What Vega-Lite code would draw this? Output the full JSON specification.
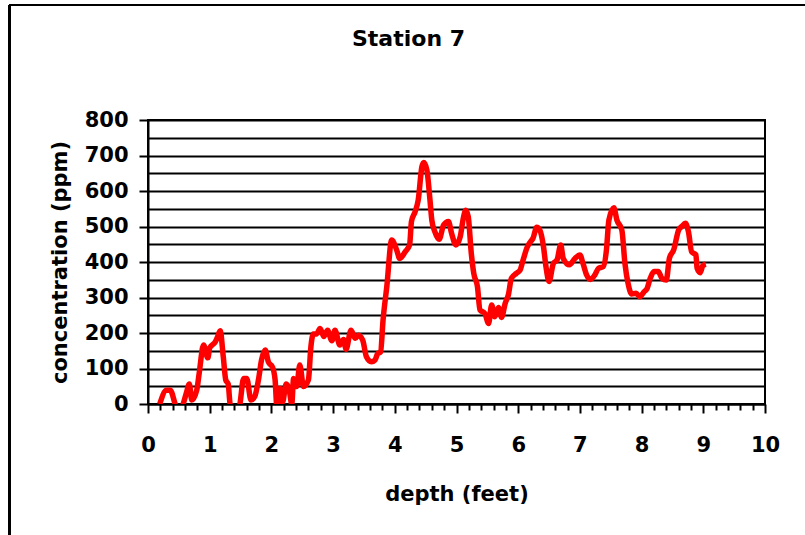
{
  "$schema": "https://vega.github.io/schema/vega-lite/v6.json",
  "autosize": "none",
  "width": 617,
  "height": 284,
  "padding": {"left": 148, "top": 120, "right": 40, "bottom": 131},
  "background": "white",
  "title": {
    "text": "Station 7",
    "font": "DejaVu Sans",
    "fontSize": 22,
    "fontWeight": "bold",
    "color": "black",
    "anchor": "middle",
    "frame": "group",
    "baseline": "alphabetic",
    "dx": -48,
    "offset": -64
  },
  "config": {
    "view": {"stroke": "black", "strokeWidth": 2},
    "axis": {
      "labelFont": "DejaVu Sans",
      "labelFontWeight": "bold",
      "labelFontSize": 21,
      "labelColor": "black",
      "titleFont": "DejaVu Sans",
      "titleFontWeight": "bold",
      "titleFontSize": 21,
      "titleColor": "black",
      "domainColor": "black",
      "domainWidth": 2,
      "tickColor": "black",
      "tickWidth": 2,
      "gridColor": "black",
      "gridWidth": 2,
      "gridOpacity": 1,
      "labelOverlap": false,
      "labelFlush": false
    }
  },
  "data": {
    "values": [
      {"depth": 0.19, "conc": 0},
      {"depth": 0.30, "conc": 39},
      {"depth": 0.36, "conc": 39},
      {"depth": 0.44, "conc": 0},
      {"depth": 0.50, "conc": -30},
      {"depth": 0.57, "conc": 0},
      {"depth": 0.62, "conc": 30},
      {"depth": 0.67, "conc": 56},
      {"depth": 0.71, "conc": 11},
      {"depth": 0.79, "conc": 39},
      {"depth": 0.83, "conc": 87},
      {"depth": 0.90, "conc": 166},
      {"depth": 0.97, "conc": 130},
      {"depth": 1.00, "conc": 158},
      {"depth": 1.09, "conc": 175},
      {"depth": 1.12, "conc": 186},
      {"depth": 1.17, "conc": 206},
      {"depth": 1.22, "conc": 133},
      {"depth": 1.26, "conc": 68},
      {"depth": 1.30, "conc": 56},
      {"depth": 1.33, "conc": 0},
      {"depth": 1.41, "conc": -40},
      {"depth": 1.49, "conc": 0},
      {"depth": 1.55, "conc": 72},
      {"depth": 1.60, "conc": 72},
      {"depth": 1.67, "conc": 11},
      {"depth": 1.73, "conc": 21},
      {"depth": 1.79, "conc": 68},
      {"depth": 1.84, "conc": 124},
      {"depth": 1.90, "conc": 152},
      {"depth": 1.95, "conc": 119},
      {"depth": 2.02, "conc": 103},
      {"depth": 2.06, "conc": 68},
      {"depth": 2.09, "conc": -10},
      {"depth": 2.14, "conc": 44},
      {"depth": 2.18, "conc": 5},
      {"depth": 2.24, "conc": 56},
      {"depth": 2.29, "conc": 39},
      {"depth": 2.33, "conc": 0},
      {"depth": 2.36, "conc": 72},
      {"depth": 2.41, "conc": 49},
      {"depth": 2.46, "conc": 110},
      {"depth": 2.52, "conc": 49},
      {"depth": 2.60, "conc": 68},
      {"depth": 2.64, "conc": 161},
      {"depth": 2.68, "conc": 197},
      {"depth": 2.73, "conc": 197},
      {"depth": 2.79, "conc": 213},
      {"depth": 2.85, "conc": 190},
      {"depth": 2.91, "conc": 208},
      {"depth": 2.98, "conc": 178},
      {"depth": 3.03, "conc": 208},
      {"depth": 3.11, "conc": 166},
      {"depth": 3.17, "conc": 182},
      {"depth": 3.21, "conc": 154},
      {"depth": 3.29, "conc": 208},
      {"depth": 3.36, "conc": 185},
      {"depth": 3.41, "conc": 194},
      {"depth": 3.48, "conc": 180},
      {"depth": 3.54, "conc": 133},
      {"depth": 3.62, "conc": 119},
      {"depth": 3.68, "conc": 124},
      {"depth": 3.72, "conc": 141},
      {"depth": 3.77, "conc": 147},
      {"depth": 3.81, "conc": 237},
      {"depth": 3.87, "conc": 330},
      {"depth": 3.95, "conc": 462},
      {"depth": 4.03, "conc": 434},
      {"depth": 4.08, "conc": 410},
      {"depth": 4.17, "conc": 429},
      {"depth": 4.24, "conc": 448},
      {"depth": 4.27, "conc": 514},
      {"depth": 4.33, "conc": 542},
      {"depth": 4.38, "conc": 575},
      {"depth": 4.44, "conc": 669},
      {"depth": 4.47, "conc": 680},
      {"depth": 4.52, "conc": 659},
      {"depth": 4.57, "conc": 575},
      {"depth": 4.60, "conc": 518},
      {"depth": 4.65, "conc": 485},
      {"depth": 4.72, "conc": 464},
      {"depth": 4.79, "conc": 504},
      {"depth": 4.87, "conc": 514},
      {"depth": 4.92, "conc": 481},
      {"depth": 4.99, "conc": 448},
      {"depth": 5.06, "conc": 471},
      {"depth": 5.11, "conc": 523},
      {"depth": 5.15, "conc": 546},
      {"depth": 5.19, "conc": 528},
      {"depth": 5.24, "conc": 424},
      {"depth": 5.28, "conc": 368},
      {"depth": 5.34, "conc": 330},
      {"depth": 5.38, "conc": 265},
      {"depth": 5.46, "conc": 255},
      {"depth": 5.52, "conc": 227},
      {"depth": 5.57, "conc": 279},
      {"depth": 5.62, "conc": 246},
      {"depth": 5.68, "conc": 272},
      {"depth": 5.73, "conc": 244},
      {"depth": 5.79, "conc": 284},
      {"depth": 5.84, "conc": 307},
      {"depth": 5.89, "conc": 354},
      {"depth": 5.97, "conc": 368},
      {"depth": 6.03, "conc": 377},
      {"depth": 6.08, "conc": 406},
      {"depth": 6.15, "conc": 443},
      {"depth": 6.20, "conc": 457},
      {"depth": 6.24, "conc": 467},
      {"depth": 6.30, "conc": 498},
      {"depth": 6.35, "conc": 490},
      {"depth": 6.41, "conc": 443},
      {"depth": 6.45, "conc": 387},
      {"depth": 6.50, "conc": 345},
      {"depth": 6.57, "conc": 396},
      {"depth": 6.63, "conc": 406},
      {"depth": 6.69, "conc": 448},
      {"depth": 6.73, "conc": 410},
      {"depth": 6.83, "conc": 392},
      {"depth": 6.92, "conc": 410},
      {"depth": 7.00, "conc": 420},
      {"depth": 7.05, "conc": 396},
      {"depth": 7.11, "conc": 363},
      {"depth": 7.17, "conc": 351},
      {"depth": 7.24, "conc": 363},
      {"depth": 7.30, "conc": 382},
      {"depth": 7.38, "conc": 387},
      {"depth": 7.43, "conc": 434},
      {"depth": 7.47, "conc": 518},
      {"depth": 7.55, "conc": 553},
      {"depth": 7.60, "conc": 518},
      {"depth": 7.68, "conc": 490},
      {"depth": 7.73, "conc": 396},
      {"depth": 7.78, "conc": 340},
      {"depth": 7.84, "conc": 310},
      {"depth": 7.91, "conc": 312},
      {"depth": 7.97, "conc": 302},
      {"depth": 8.04, "conc": 316},
      {"depth": 8.09, "conc": 326},
      {"depth": 8.14, "conc": 354},
      {"depth": 8.20, "conc": 373},
      {"depth": 8.27, "conc": 373},
      {"depth": 8.33, "conc": 354},
      {"depth": 8.40, "conc": 349},
      {"depth": 8.45, "conc": 410},
      {"depth": 8.52, "conc": 434},
      {"depth": 8.60, "conc": 490},
      {"depth": 8.65, "conc": 500},
      {"depth": 8.71, "conc": 509},
      {"depth": 8.76, "conc": 485},
      {"depth": 8.81, "conc": 429},
      {"depth": 8.88, "conc": 420},
      {"depth": 8.90, "conc": 382},
      {"depth": 8.95, "conc": 370},
      {"depth": 8.99, "conc": 389},
      {"depth": 9.04, "conc": 394}
    ]
  },
  "layer": [
    {
      "mark": {"type": "line", "color": "#FF0000", "strokeWidth": 5.5, "interpolate": "monotone", "clip": true},
      "encoding": {
        "x": {
          "field": "depth",
          "type": "quantitative",
          "scale": {"domain": [0, 10], "nice": false, "zero": false},
          "axis": {
            "title": "depth (feet)",
            "values": [0, 0.2, 0.4, 0.6, 0.8, 1, 1.2, 1.4, 1.6, 1.8, 2, 2.2, 2.4, 2.6, 2.8, 3, 3.2, 3.4, 3.6, 3.8, 4, 4.2, 4.4, 4.6, 4.8, 5, 5.2, 5.4, 5.6, 5.8, 6, 6.2, 6.4, 6.6, 6.8, 7, 7.2, 7.4, 7.6, 7.8, 8, 8.2, 8.4, 8.6, 8.8, 9, 9.2, 9.4, 9.6, 9.8, 10],
            "labelExpr": "abs(datum.value - round(datum.value)) < 0.001 ? format(datum.value, 'd') : ''",
            "tickSize": {"condition": {"test": "abs(datum.value - round(datum.value)) < 0.001", "value": 9}, "value": 6},
            "labelPadding": 21,
            "labelBaseline": "top",
            "titlePadding": 28,
            "grid": false
          }
        },
        "y": {
          "field": "conc",
          "type": "quantitative",
          "scale": {"domain": [0, 800], "nice": false, "zero": false},
          "axis": {
            "title": "concentration (ppm)",
            "values": [0, 50, 100, 150, 200, 250, 300, 350, 400, 450, 500, 550, 600, 650, 700, 750, 800],
            "labelExpr": "datum.value % 100 === 0 ? format(datum.value, 'd') : ''",
            "tickSize": {"condition": {"test": "datum.value % 100 === 0", "value": 9}, "value": 0},
            "labelPadding": 11,
            "titlePadding": 14,
            "grid": true
          }
        }
      }
    },
    {
      "mark": {"type": "rule", "color": "black", "strokeWidth": 2, "clip": false},
      "encoding": {
        "x": {
          "datum": -2.237,
          "axis": {
            "title": "depth (feet)",
            "values": [0, 0.2, 0.4, 0.6, 0.8, 1, 1.2, 1.4, 1.6, 1.8, 2, 2.2, 2.4, 2.6, 2.8, 3, 3.2, 3.4, 3.6, 3.8, 4, 4.2, 4.4, 4.6, 4.8, 5, 5.2, 5.4, 5.6, 5.8, 6, 6.2, 6.4, 6.6, 6.8, 7, 7.2, 7.4, 7.6, 7.8, 8, 8.2, 8.4, 8.6, 8.8, 9, 9.2, 9.4, 9.6, 9.8, 10],
            "labelExpr": "abs(datum.value - round(datum.value)) < 0.001 ? format(datum.value, 'd') : ''",
            "tickSize": {"condition": {"test": "abs(datum.value - round(datum.value)) < 0.001", "value": 9}, "value": 6},
            "labelPadding": 21,
            "labelBaseline": "top",
            "titlePadding": 28,
            "grid": false
          }
        },
        "x2": {"datum": 11},
        "y": {
          "datum": 1124,
          "axis": {
            "title": "concentration (ppm)",
            "values": [0, 50, 100, 150, 200, 250, 300, 350, 400, 450, 500, 550, 600, 650, 700, 750, 800],
            "labelExpr": "datum.value % 100 === 0 ? format(datum.value, 'd') : ''",
            "tickSize": {"condition": {"test": "datum.value % 100 === 0", "value": 9}, "value": 0},
            "labelPadding": 11,
            "titlePadding": 14,
            "grid": true
          }
        }
      }
    },
    {
      "mark": {"type": "rule", "color": "black", "strokeWidth": 2, "clip": false},
      "encoding": {
        "x": {
          "datum": -2.237,
          "axis": {
            "title": "depth (feet)",
            "values": [0, 0.2, 0.4, 0.6, 0.8, 1, 1.2, 1.4, 1.6, 1.8, 2, 2.2, 2.4, 2.6, 2.8, 3, 3.2, 3.4, 3.6, 3.8, 4, 4.2, 4.4, 4.6, 4.8, 5, 5.2, 5.4, 5.6, 5.8, 6, 6.2, 6.4, 6.6, 6.8, 7, 7.2, 7.4, 7.6, 7.8, 8, 8.2, 8.4, 8.6, 8.8, 9, 9.2, 9.4, 9.6, 9.8, 10],
            "labelExpr": "abs(datum.value - round(datum.value)) < 0.001 ? format(datum.value, 'd') : ''",
            "tickSize": {"condition": {"test": "abs(datum.value - round(datum.value)) < 0.001", "value": 9}, "value": 6},
            "labelPadding": 21,
            "labelBaseline": "top",
            "titlePadding": 28,
            "grid": false
          }
        },
        "y": {
          "datum": 1124,
          "axis": {
            "title": "concentration (ppm)",
            "values": [0, 50, 100, 150, 200, 250, 300, 350, 400, 450, 500, 550, 600, 650, 700, 750, 800],
            "labelExpr": "datum.value % 100 === 0 ? format(datum.value, 'd') : ''",
            "tickSize": {"condition": {"test": "datum.value % 100 === 0", "value": 9}, "value": 0},
            "labelPadding": 11,
            "titlePadding": 14,
            "grid": true
          }
        },
        "y2": {"datum": -500}
      }
    }
  ]
}
